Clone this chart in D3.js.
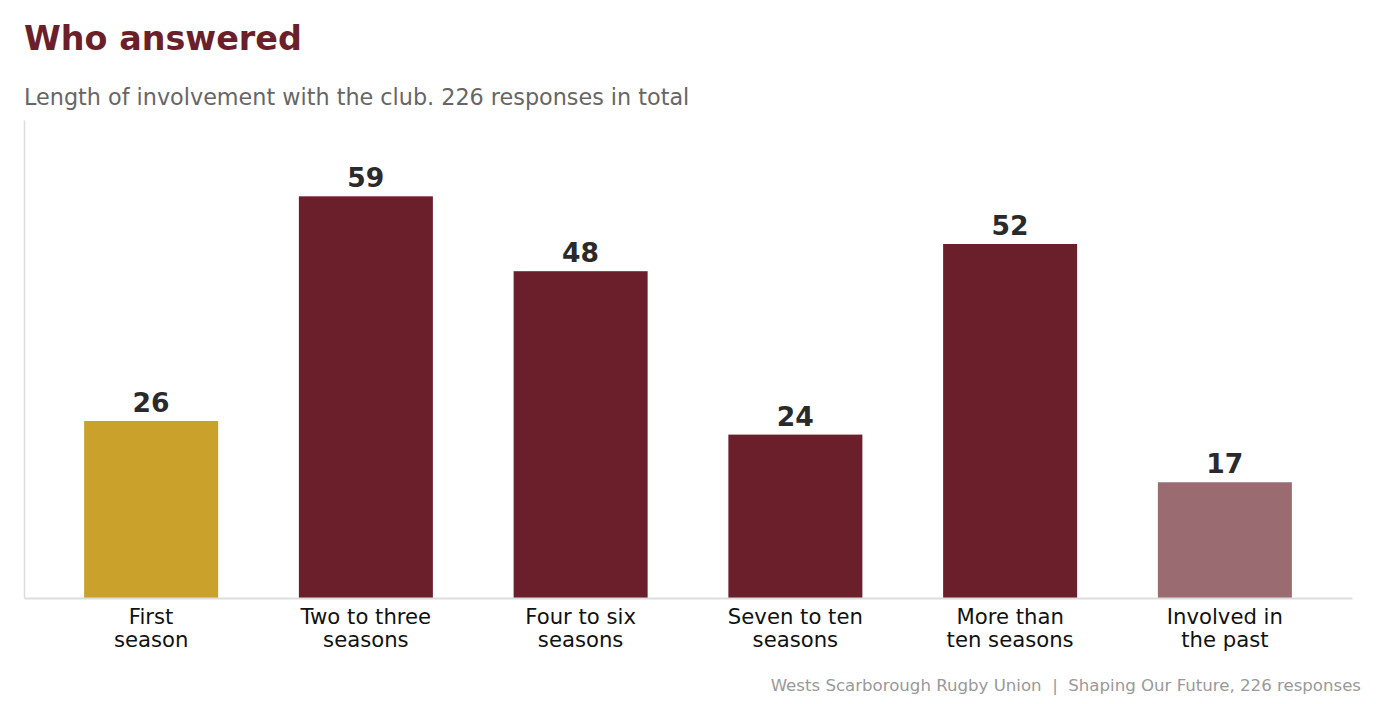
<!DOCTYPE html>
<html>
<head>
<meta charset="utf-8">
<script src="https://cdn.jsdelivr.net/npm/d3@7"></script>
<style>
  body { margin: 0; background: #fff; }
  text { font-family: "DejaVu Sans", sans-serif; }
</style>
</head>
<body>
<script>
var w = 1376;
var h = 704;

var categories = ["First\nseason", "Two to three\nseasons", "Four to six\nseasons",
                  "Seven to ten\nseasons", "More than\nten seasons", "Involved in\nthe past"];
var counts = [26, 59, 48, 24, 52, 17];
var barColors = ["#c9a12b", "#6b1f2b", "#6b1f2b", "#6b1f2b", "#6b1f2b", "#9a6b71"];

var plotLeft = 24, plotRight = 1352, plotTop = 120, plotBottom = 598;

var svg = d3.select("body").append("svg")
            .attr("width", w)
            .attr("height", h);

var x = d3.scaleBand()
          .domain(categories)
          .range([plotLeft, plotRight])
          .paddingInner(0.376)
          .paddingOuter(0.28);

var y = d3.scaleLinear()
          .domain([0, d3.max(counts) * 1.19])
          .range([plotBottom, plotTop]);

// title + subtitle
svg.append("text")
   .attr("x", 24).attr("y", 50)
   .attr("font-size", "33.4px")
   .attr("font-weight", "bold")
   .attr("fill", "#6b1f2b")
   .text("Who answered");

svg.append("text")
   .attr("x", 24).attr("y", 105)
   .attr("font-size", "22.3px")
   .attr("fill", "#666666")
   .text("Length of involvement with the club. 226 responses in total");

// bars
svg.selectAll("rect.bar")
   .data(counts)
   .enter()
   .append("rect")
   .attr("class", "bar")
   .attr("x", function(d, i) { return x(categories[i]); })
   .attr("y", function(d) { return y(d); })
   .attr("width", x.bandwidth())
   .attr("height", function(d) { return plotBottom - y(d); })
   .attr("fill", function(d, i) { return barColors[i]; });

// value labels
svg.selectAll("text.val")
   .data(counts)
   .enter()
   .append("text")
   .attr("class", "val")
   .attr("x", function(d, i) { return x(categories[i]) + x.bandwidth() / 2; })
   .attr("y", function(d) { return y(d) - 9; })
   .attr("text-anchor", "middle")
   .attr("font-size", "26.6px")
   .attr("font-weight", "bold")
   .attr("fill", "#2a2a2a")
   .text(function(d) { return d; });

// axes lines
var xAxis = svg.append("g")
   .attr("transform", "translate(0," + plotBottom + ")")
   .call(d3.axisBottom(x).tickSize(0).tickPadding(0).tickFormat(""));
xAxis.select(".domain").attr("stroke", "#dddddd").attr("stroke-width", 2);

var yAxis = svg.append("g")
   .attr("transform", "translate(" + plotLeft + ",0)")
   .call(d3.axisLeft(y).tickValues([]).tickSize(0));
yAxis.select(".domain").attr("stroke", "#dddddd").attr("stroke-width", 1.5);

// category labels (two lines)
var catText = svg.selectAll("text.cat")
   .data(categories)
   .enter()
   .append("text")
   .attr("class", "cat")
   .attr("text-anchor", "middle")
   .attr("font-size", "21.2px")
   .attr("fill", "#111111");

catText.selectAll("tspan")
   .data(function(d) { return d.split("\n").map(function(s) { return { s: s, c: d }; }); })
   .enter()
   .append("tspan")
   .attr("x", function(t) { return x(t.c) + x.bandwidth() / 2; })
   .attr("y", function(t, j) { return 624 + j * 23; })
   .text(function(t) { return t.s; });

// footer
svg.append("text")
   .attr("x", 1361).attr("y", 691)
   .attr("text-anchor", "end")
   .attr("font-size", "16.6px")
   .attr("fill", "#999999")
   .attr("xml:space", "preserve")
   .style("white-space", "pre")
   .text("Wests Scarborough Rugby Union  |  Shaping Our Future, 226 responses");
</script>
</body>
</html>
